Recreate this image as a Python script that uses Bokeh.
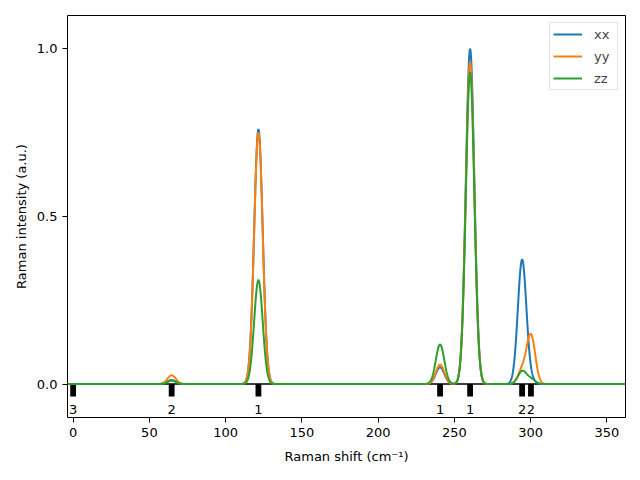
import numpy as np
from bokeh.plotting import figure
from bokeh.models import ColumnDataSource, FixedTicker, PrintfTickFormatter, Range1d, Legend, LegendItem
from bokeh.core.properties import value
from bokeh.embed import file_html
from bokeh.resources import INLINE

# Mode data
mode_freq = [0, 64.6, 121.5, 240.6, 260.3, 294.4, 300.2]
degeneracy = ["3", "2", "1", "1", "1", "2", "2"]
int_xx = [0.0, 0.012, 0.76, 0.05, 1.0, 0.37, 0.01]
int_yy = [0.0, 0.026, 0.75, 0.058, 0.96, 0.04, 0.145]
int_zz = [0.0, 0.010, 0.31, 0.118, 0.93, 0.038, 0.015]
sigma = 2.8  # Gaussian broadening (cm^-1)
x_ticks = [0, 50, 100, 150, 200, 250, 300, 350]
y_ticks = [0.0, 0.5, 1.0]

X_START, X_END = -3.7, 362.2
Y_START, Y_END = -0.0997, 1.0994

shift = np.linspace(X_START, X_END, 2000)
def spectrum(ints):
    s = np.zeros_like(shift)
    for f, a in zip(mode_freq, ints):
        s += a * np.exp(-0.5 * ((shift - f) / sigma) ** 2)
    return s

FONT = "DejaVu Sans"
p = figure(width=640, height=480, output_backend="svg", toolbar_location=None,
           x_range=Range1d(X_START, X_END), y_range=Range1d(Y_START, Y_END))
p.min_border_left = 67
p.min_border_right = 15
p.min_border_top = 15
p.min_border_bottom = 63
p.xgrid.visible = False
p.ygrid.visible = False
p.outline_line_color = "black"
p.outline_line_width = 1
p.background_fill_color = "white"
p.border_fill_color = "white"

for ax in (p.xaxis[0], p.yaxis[0]):
    ax.major_label_text_font = FONT
    ax.major_label_text_font_size = "13px"
    ax.major_label_text_color = "black"
    ax.axis_label_text_font = FONT
    ax.axis_label_text_font_size = "13px"
    ax.axis_label_text_font_style = "normal"
    ax.axis_label_text_color = "black"
    ax.minor_tick_line_color = None
    ax.major_tick_out = 5
    ax.major_tick_in = 0
    ax.axis_line_color = None
    ax.major_tick_line_color = "black"

p.xaxis.ticker = FixedTicker(ticks=x_ticks)
p.yaxis.ticker = FixedTicker(ticks=y_ticks)
p.yaxis.formatter = PrintfTickFormatter(format="%.1f")
p.xaxis.axis_label = "Raman shift (cm⁻¹)"
p.yaxis.axis_label = "Raman intensity (a.u.)"
p.xaxis.axis_label_standoff = 9
p.yaxis.axis_label_standoff = 5

# zero line
p.line([X_START, X_END], [0, 0], line_color="black", line_width=1.5)

# mode markers
src = ColumnDataSource(dict(x=mode_freq, deg=degeneracy))
p.vbar(x="x", width=3.8, top=0, bottom=-0.037, source=src, fill_color="black", line_color=None)
p.text(x="x", y=-0.0746, text="deg", source=src, text_align="center", text_baseline="middle",
       text_font=value(FONT), text_font_size="13px", text_color="black")

colors = ["#1f77b4", "#ff7f0e", "#2ca02c"]
names = ["xx", "yy", "zz"]
items = []
for ints, c, n in zip([int_xx, int_yy, int_zz], colors, names):
    r = p.line(shift, spectrum(ints), line_color=c, line_width=2)
    items.append(LegendItem(label=n, renderers=[r]))

legend = Legend(items=items, location="top_right")
legend.label_text_font = FONT
legend.label_text_font_size = "13px"
legend.border_line_color = "#cccccc"
legend.border_line_width = 1
legend.glyph_width = 29
legend.glyph_height = 16
legend.label_standoff = 12
legend.label_width = 20
legend.spacing = 6
legend.padding = 3
legend.margin = 7
legend.background_fill_alpha = 0.8
p.add_layout(legend)

open("out.html", "w").write(file_html(p, INLINE))
